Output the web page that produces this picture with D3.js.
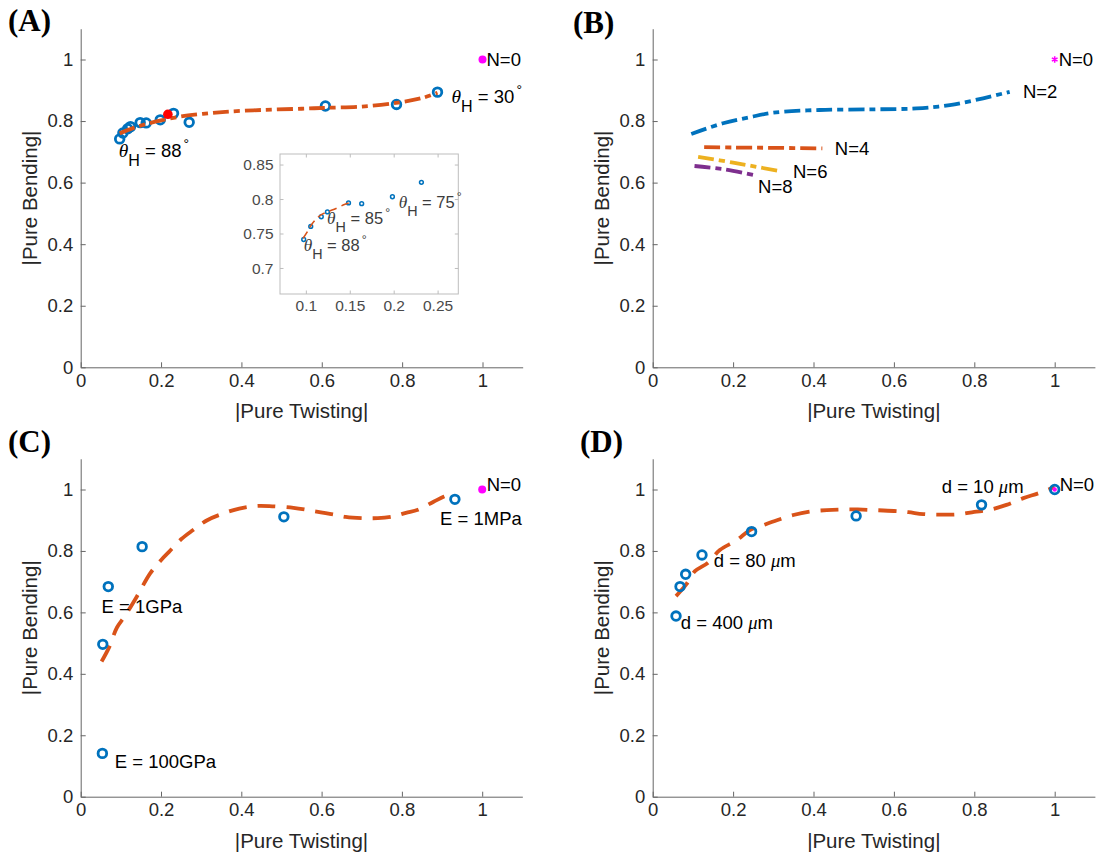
<!DOCTYPE html>
<html><head><meta charset="utf-8">
<script src="https://cdn.jsdelivr.net/npm/d3@7"></script>
<style>body{margin:0;background:#fff}</style>
</head><body><svg id="chart" width="1097" height="860"></svg>
<script>
// ---------- data ----------
const axisTicks = [0, 0.2, 0.4, 0.6, 0.8, 1];
const axisDomain = [0, 1.1];
const xTitle = "|Pure Twisting|";
const yTitle = "|Pure Bending|";
const panelLetters = ["(A)", "(B)", "(C)", "(D)"];
const refPoint = [1, 1];
const refLabel = "N=0";

// Panel A
const aPointsX = [0.097, 0.105, 0.117, 0.124, 0.148, 0.163, 0.198, 0.231, 0.27, 0.609, 0.786, 0.888];
const aPointsY = [0.742, 0.761, 0.775, 0.782, 0.795, 0.794, 0.804, 0.825, 0.796, 0.849, 0.854, 0.894];
const aFitX = [0.097, 0.13, 0.16, 0.2, 0.25, 0.3, 0.36, 0.45, 0.55, 0.61, 0.7, 0.79, 0.85, 0.888];
const aFitY = [0.760, 0.777, 0.789, 0.802, 0.815, 0.823, 0.830, 0.836, 0.840, 0.843, 0.847, 0.860, 0.875, 0.892];
const aHighlight = [0.217, 0.822];
const aThetaLabels = ["88", "30"];
const aThetaX = [0.0946, 0.923];
const aThetaY = [0.683, 0.858];
// Panel A inset
const insetXTicks = [0.1, 0.15, 0.2, 0.25];
const insetYTicks = [0.7, 0.75, 0.8, 0.85];
const insetXDomain = [0.07, 0.273];
const insetYDomain = [0.663, 0.866];
const insetFitX = [0.0962, 0.1015, 0.1054, 0.1114, 0.117, 0.124, 0.131, 0.1433, 0.1482];
const insetFitY = [0.7436, 0.7541, 0.7627, 0.7719, 0.778, 0.782, 0.7855, 0.7927, 0.795];
const insetThetaLabels = ["88", "85", "75"];
const insetThetaX = [0.0969, 0.1236, 0.2051];
const insetThetaY = [0.725, 0.764, 0.7874];

// Panel B
const bSeriesNames = ["N=2", "N=4", "N=6", "N=8"];
const bN2X = [0.096, 0.175, 0.24, 0.299, 0.415, 0.548, 0.656, 0.739, 0.822, 0.888];
const bN2Y = [0.758, 0.793, 0.812, 0.827, 0.836, 0.838, 0.841, 0.852, 0.874, 0.895];
const bN4X = [0.128, 0.2, 0.3, 0.422];
const bN4Y = [0.715, 0.714, 0.713, 0.711];
const bN6X = [0.113, 0.2, 0.314];
const bN6Y = [0.684, 0.665, 0.638];
const bN8X = [0.104, 0.18, 0.25];
const bN8Y = [0.654, 0.643, 0.625];
const bLabelX = [0.921, 0.453, 0.349, 0.262];
const bLabelY = [0.874, 0.690, 0.614, 0.567];

// Panel C
const cPointsX = [0.054, 0.055, 0.0687, 0.153, 0.506, 0.932];
const cPointsY = [0.141, 0.496, 0.684, 0.814, 0.911, 0.968];
const cFitX = [0.052, 0.071, 0.09, 0.11, 0.14, 0.173, 0.2, 0.22, 0.25, 0.28, 0.315, 0.355, 0.395, 0.435, 0.47, 0.53, 0.58, 0.63, 0.66, 0.70, 0.74, 0.78, 0.81, 0.84, 0.88, 0.905, 0.932];
const cFitY = [0.44, 0.487, 0.55, 0.588, 0.652, 0.727, 0.77, 0.797, 0.838, 0.868, 0.9, 0.922, 0.938, 0.946, 0.946, 0.94, 0.93, 0.919, 0.911, 0.907, 0.907, 0.913, 0.924, 0.934, 0.961, 0.977, 0.99];
const cLabels = ["E = 1GPa", "E = 1MPa", "E = 100GPa"];
const cLabelX = [0.052, 0.895, 0.085];
const cLabelY = [0.599, 0.884, 0.094];

// Panel D
const dPointsX = [0.058, 0.068, 0.082, 0.1226, 0.246, 0.506, 0.818, 1.0];
const dPointsY = [0.588, 0.684, 0.724, 0.787, 0.863, 0.914, 0.950, 1.0];
const dFitX = [0.058, 0.084, 0.105, 0.138, 0.167, 0.209, 0.242, 0.275, 0.309, 0.35, 0.391, 0.433, 0.47, 0.51, 0.55, 0.6, 0.636, 0.673, 0.72, 0.76, 0.8, 0.835, 0.88, 0.922, 0.96, 1.0];
const dFitY = [0.653, 0.692, 0.734, 0.762, 0.803, 0.835, 0.868, 0.884, 0.9, 0.917, 0.928, 0.933, 0.935, 0.935, 0.933, 0.930, 0.926, 0.920, 0.918, 0.919, 0.927, 0.933, 0.95, 0.972, 0.988, 1.008];
const dLabelNums = ["10", "80", "400"];
const dLabelX = [0.719, 0.152, 0.070];
const dLabelY = [0.988, 0.747, 0.545];

// ---------- styling / layout ----------
const FONT = "'Liberation Sans', Arial, Helvetica, sans-serif";
const SERIF = "'Liberation Serif', 'Times New Roman', serif";
const BLUE = "#0072BD", ORANGE = "#D95319", YELLOW = "#EDB120", PURPLE = "#7E2F8E", MAGENTA = "#FF00FF";
const AXIS_COLOR = "#666";
const TEXT_COLOR = "#262626";
const TICK_FS = 18.5, LABEL_FS = 18.5, TITLE_FS = 20.5;
const DASHDOT = "16,5,6,5";
const DASHED = "18,11";

const layout = [
  {left: 80.7, bottom: 367.3, ux: 401.8, uy: 307.8, lx: 8, ly: 31},
  {left: 652.7, bottom: 367.3, ux: 402, uy: 307.8, lx: 573, ly: 33},
  {left: 80.7, bottom: 796.7, ux: 401.5, uy: 307.2, lx: 8, ly: 452},
  {left: 652.7, bottom: 796.7, ux: 402, uy: 307.2, lx: 580, ly: 452}
];

const svg = d3.select("#chart");
svg.append("rect").attr("width", 1097).attr("height", 860).attr("fill", "#fff");

function zip(xs, ys) { return xs.map((v, i) => [v, ys[i]]); }

function setupPanel(i) {
  const L = layout[i];
  const x = d3.scaleLinear().domain(axisDomain).range([L.left, L.left + 1.1 * L.ux]);
  const y = d3.scaleLinear().domain(axisDomain).range([L.bottom, L.bottom - 1.1 * L.uy]);
  const g = svg.append("g");
  const fmt = d3.format("~g");
  const xa = g.append("g").attr("transform", `translate(0,${L.bottom})`)
    .call(d3.axisBottom(x).tickValues(axisTicks).tickFormat(fmt).tickSizeInner(-5).tickSizeOuter(0).tickPadding(6.3));
  const ya = g.append("g").attr("transform", `translate(${L.left},0)`)
    .call(d3.axisLeft(y).tickValues(axisTicks).tickFormat(fmt).tickSizeInner(-5).tickSizeOuter(0).tickPadding(7.5));
  [xa, ya].forEach(a => {
    a.select(".domain").attr("stroke", AXIS_COLOR).attr("stroke-width", 1);
    a.selectAll(".tick line").attr("stroke", AXIS_COLOR);
    a.selectAll(".tick text").attr("font-family", FONT).attr("font-size", TICK_FS).attr("fill", TEXT_COLOR);
  });
  g.append("text").attr("x", (x.range()[0] + x.range()[1]) / 2).attr("y", L.bottom + 51)
    .attr("text-anchor", "middle").attr("font-family", FONT).attr("font-size", TITLE_FS).attr("fill", TEXT_COLOR).text(xTitle);
  const yc = (y.range()[0] + y.range()[1]) / 2;
  g.append("text").attr("transform", `translate(${L.left - 44},${yc}) rotate(-90)`)
    .attr("text-anchor", "middle").attr("font-family", FONT).attr("font-size", TITLE_FS).attr("fill", TEXT_COLOR).text(yTitle);
  svg.append("text").attr("x", L.lx).attr("y", L.ly).attr("font-family", SERIF).attr("font-weight", "bold")
    .attr("font-size", 31).attr("fill", "#000").text(panelLetters[i]);
  return {g, x, y};
}

function drawLine(g, x, y, xs, ys, color, dash, width) {
  g.append("path").datum(zip(xs, ys))
    .attr("fill", "none").attr("stroke", color).attr("stroke-width", width || 3.6)
    .attr("stroke-dasharray", dash)
    .attr("d", d3.line().x(d => x(d[0])).y(d => y(d[1])).curve(d3.curveCatmullRom));
}
function drawCircles(g, x, y, xs, ys, r, sw) {
  g.selectAll(null).data(zip(xs, ys)).enter().append("circle")
    .attr("cx", d => x(d[0])).attr("cy", d => y(d[1])).attr("r", r)
    .attr("fill", "none").attr("stroke", BLUE).attr("stroke-width", sw);
}
function plainLabel(g, px, py, txt, fs) {
  g.append("text").attr("x", px).attr("y", py).attr("font-family", FONT).attr("font-size", fs || LABEL_FS)
    .attr("fill", "#000").text(txt);
}
function thetaLabel(g, px, py, deg, fs, color) {
  const t = g.append("text").attr("x", px).attr("y", py).attr("font-family", FONT)
    .attr("font-size", fs).attr("fill", color);
  t.append("tspan").attr("font-style", "italic").attr("font-family", SERIF).attr("font-size", fs * 1.05).text("θ");
  t.append("tspan").attr("dy", fs * 0.49).attr("font-size", fs * 0.87).text("H");
  t.append("tspan").attr("dy", -fs * 0.49).text(" = " + deg);
  t.append("tspan").attr("dy", -fs * 0.45).attr("dx", 2).attr("font-size", fs * 0.75).text("°");
}
function muLabel(g, px, py, num) {
  const t = g.append("text").attr("x", px).attr("y", py).attr("font-family", FONT)
    .attr("font-size", LABEL_FS).attr("fill", "#000");
  t.append("tspan").text("d = " + num + " ");
  t.append("tspan").attr("font-style", "italic").attr("font-family", SERIF).text("μ");
  t.append("tspan").text("m");
}

// ---------- Panel A ----------
{
  const {g, x, y} = setupPanel(0);
  drawCircles(g, x, y, aPointsX, aPointsY, 4.3, 2.8);
  drawLine(g, x, y, aFitX, aFitY, ORANGE, DASHDOT, 3.8);
  g.append("circle").attr("cx", x(aHighlight[0])).attr("cy", y(aHighlight[1])).attr("r", 4.8).attr("fill", "#FF0000");
  g.append("circle").attr("cx", x(refPoint[0])).attr("cy", y(refPoint[1])).attr("r", 4).attr("fill", MAGENTA);
  plainLabel(g, x(refPoint[0]) + 4, y(refPoint[1]) + 6.5, refLabel);
  aThetaLabels.forEach((d, i) => thetaLabel(g, x(aThetaX[i]), y(aThetaY[i]), d, LABEL_FS, "#000"));

  // inset
  const ix = d3.scaleLinear().domain(insetXDomain).range([280, 458.3]);
  const iy = d3.scaleLinear().domain(insetYDomain).range([294, 154]);
  const ig = g.append("g");
  ig.append("rect").attr("x", 280).attr("y", 154).attr("width", 178.3).attr("height", 140)
    .attr("fill", "#fff").attr("stroke", "#bdbdbd").attr("stroke-width", 1);
  const IC = "#bdbdbd";
  insetXTicks.forEach(t => {
    ig.append("line").attr("x1", ix(t)).attr("x2", ix(t)).attr("y1", 294).attr("y2", 290.5).attr("stroke", IC);
    ig.append("line").attr("x1", ix(t)).attr("x2", ix(t)).attr("y1", 154).attr("y2", 157.5).attr("stroke", IC);
    ig.append("text").attr("x", ix(t)).attr("y", 311).attr("text-anchor", "middle").attr("font-family", FONT)
      .attr("font-size", 15.5).attr("fill", "#4a4a4a").text(d3.format("~g")(t));
  });
  insetYTicks.forEach(t => {
    ig.append("line").attr("x1", 280).attr("x2", 283.5).attr("y1", iy(t)).attr("y2", iy(t)).attr("stroke", IC);
    ig.append("line").attr("x1", 458.3).attr("x2", 454.8).attr("y1", iy(t)).attr("y2", iy(t)).attr("stroke", IC);
    ig.append("text").attr("x", 273.5).attr("y", iy(t)).attr("dy", "0.35em").attr("text-anchor", "end").attr("font-family", FONT)
      .attr("font-size", 15.5).attr("fill", "#4a4a4a").text(d3.format("~g")(t));
  });
  const aInsetX = aPointsX.filter(v => v < 0.25), aInsetY = aPointsY.filter((v, i) => aPointsX[i] < 0.25);
  drawCircles(ig, ix, iy, aInsetX, aInsetY, 1.9, 1.5);
  drawLine(ig, ix, iy, insetFitX, insetFitY, ORANGE, "8,5", 1.6);
  insetThetaLabels.forEach((d, i) => thetaLabel(ig, ix(insetThetaX[i]), iy(insetThetaY[i]), d, 16.5, "#3c3c3c"));
}

// ---------- Panel B ----------
{
  const {g, x, y} = setupPanel(1);
  const series = [[bN2X, bN2Y, BLUE], [bN4X, bN4Y, ORANGE], [bN6X, bN6Y, YELLOW], [bN8X, bN8Y, PURPLE]];
  series.forEach(s => drawLine(g, x, y, s[0], s[1], s[2], DASHDOT, 3.8));
  g.append("path").attr("transform", `translate(${x(refPoint[0])},${y(refPoint[1])})`)
    .attr("d", d3.symbol(d3.symbolAsterisk, 30)()).attr("stroke", MAGENTA).attr("stroke-width", 1.6).attr("fill", "none");
  plainLabel(g, x(refPoint[0]) + 4, y(refPoint[1]) + 6.5, refLabel);
  bSeriesNames.forEach((n, i) => plainLabel(g, x(bLabelX[i]), y(bLabelY[i]), n));
}

// ---------- Panel C ----------
{
  const {g, x, y} = setupPanel(2);
  drawLine(g, x, y, cFitX, cFitY, ORANGE, DASHED, 3.8);
  drawCircles(g, x, y, cPointsX, cPointsY, 4.3, 2.8);
  g.append("circle").attr("cx", x(refPoint[0])).attr("cy", y(refPoint[1])).attr("r", 4).attr("fill", MAGENTA);
  plainLabel(g, x(refPoint[0]) + 4.5, y(refPoint[1]) + 1.5, refLabel);
  cLabels.forEach((t, i) => plainLabel(g, x(cLabelX[i]), y(cLabelY[i]), t));
}

// ---------- Panel D ----------
{
  const {g, x, y} = setupPanel(3);
  drawLine(g, x, y, dFitX, dFitY, ORANGE, DASHED, 3.8);
  drawCircles(g, x, y, dPointsX, dPointsY, 4.3, 2.8);
  g.append("circle").attr("cx", x(refPoint[0])).attr("cy", y(refPoint[1])).attr("r", 2.2).attr("fill", MAGENTA);
  plainLabel(g, x(refPoint[0]) + 5, y(refPoint[1]) + 1.5, refLabel);
  dLabelNums.forEach((n, i) => muLabel(g, x(dLabelX[i]), y(dLabelY[i]), n));
}
</script>
</body></html>
